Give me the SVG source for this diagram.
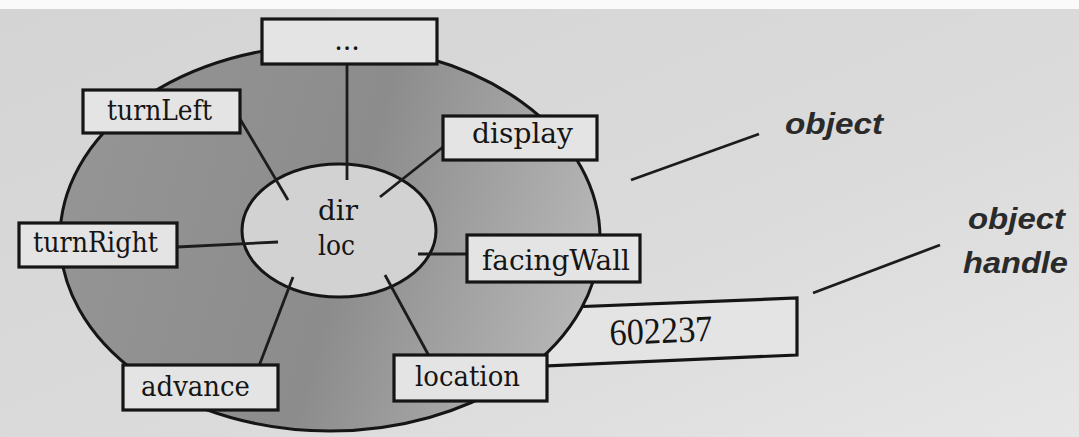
<svg xmlns="http://www.w3.org/2000/svg" width="1079" height="437" viewBox="0 0 1079 437">
<defs>
<linearGradient id="bg" x1="0" y1="0" x2="1" y2="1">
<stop offset="0" stop-color="#d4d4d4"/>
<stop offset="0.6" stop-color="#dbdbdb"/>
<stop offset="1" stop-color="#e6e6e6"/>
</linearGradient>
<linearGradient id="outer" x1="0" y1="0.3" x2="1" y2="0.5">
<stop offset="0" stop-color="#959595"/>
<stop offset="0.55" stop-color="#8c8c8c"/>
<stop offset="1" stop-color="#b6b6b6"/>
</linearGradient>
<style>
.box{fill:#e4e4e4;stroke:#151515;stroke-width:3.2}
.lbl{font-family:"DejaVu Serif","Liberation Serif",serif;font-size:27px;fill:#151515}
.ln{stroke:#1c1c1c;stroke-width:2.8;fill:none}
.ital{font-family:"Liberation Sans",Arial,sans-serif;font-style:italic;font-weight:bold;font-size:30px;fill:#2a2a2a}
</style>
</defs>
<rect x="0" y="0" width="1079" height="437" fill="url(#bg)"/>
<rect x="0" y="0" width="1079" height="9" fill="#fafafa"/>

<g id="handle-box">
<polygon class="box" points="520,309 797,298 797,355 520,367"/>
<text x="610" y="343" transform="rotate(-2.5 661 343)" font-family="Liberation Serif, serif" font-size="37" fill="#151515" textLength="103" lengthAdjust="spacingAndGlyphs">602237</text>
</g>

<g id="object">
<ellipse cx="330" cy="238" rx="270" ry="193" fill="url(#outer)" stroke="#151515" stroke-width="3"/>
</g>

<g id="core">
<ellipse cx="339" cy="230.5" rx="97" ry="66.5" fill="#d2d2d2" stroke="#151515" stroke-width="3"/>
<text class="lbl" x="318" y="220" font-size="28" textLength="40" lengthAdjust="spacingAndGlyphs">dir</text>
<text class="lbl" x="318" y="255" font-size="28" textLength="37" lengthAdjust="spacingAndGlyphs">loc</text>
</g>

<g id="connectors">
<line class="ln" x1="347" y1="64" x2="347" y2="180"/>
<line class="ln" x1="240" y1="119" x2="288" y2="200"/>
<line class="ln" x1="443" y1="147" x2="380" y2="197"/>
<line class="ln" x1="177" y1="247" x2="278" y2="242"/>
<line class="ln" x1="418" y1="254" x2="467" y2="254"/>
<line class="ln" x1="293" y1="277" x2="259" y2="366"/>
<line class="ln" x1="385" y1="275" x2="429" y2="356"/>
<line class="ln" x1="631" y1="180" x2="759" y2="134"/>
<line class="ln" x1="813" y1="293" x2="940" y2="245"/>
</g>

<g id="n-dots">
<rect class="box" x="262" y="19" width="175" height="45" stroke="#2a2a2a"/>
<text class="lbl" x="347" y="50" fill="#555" text-anchor="middle">...</text>
</g>
<g id="n-turnLeft">
<rect class="box" x="83" y="90" width="157" height="43"/>
<text class="lbl" x="107" y="120" textLength="105" lengthAdjust="spacingAndGlyphs">turnLeft</text>
</g>
<g id="n-display">
<rect class="box" x="443" y="116" width="154" height="44" stroke="#333"/>
<text class="lbl" x="472" y="143" fill="#444" textLength="101" lengthAdjust="spacingAndGlyphs">display</text>
</g>
<g id="n-turnRight">
<rect class="box" x="19" y="223" width="158" height="44"/>
<text class="lbl" x="33" y="252" textLength="125" lengthAdjust="spacingAndGlyphs">turnRight</text>
</g>
<g id="n-facingWall">
<rect class="box" x="467" y="235" width="173" height="47"/>
<text class="lbl" x="482" y="270" textLength="148" lengthAdjust="spacingAndGlyphs">facingWall</text>
</g>
<g id="n-location">
<rect class="box" x="394" y="355" width="153" height="46"/>
<text class="lbl" x="415" y="386" textLength="105" lengthAdjust="spacingAndGlyphs">location</text>
</g>
<g id="n-advance">
<rect class="box" x="123" y="365" width="155" height="45"/>
<text class="lbl" x="141" y="396" textLength="109" lengthAdjust="spacingAndGlyphs">advance</text>
</g>

<g id="labels">
<text class="ital" x="785" y="134" textLength="98" lengthAdjust="spacingAndGlyphs">object</text>
<text class="ital" x="968" y="229" textLength="97" lengthAdjust="spacingAndGlyphs">object</text>
<text class="ital" x="963" y="273" textLength="105" lengthAdjust="spacingAndGlyphs">handle</text>
</g>
</svg>
